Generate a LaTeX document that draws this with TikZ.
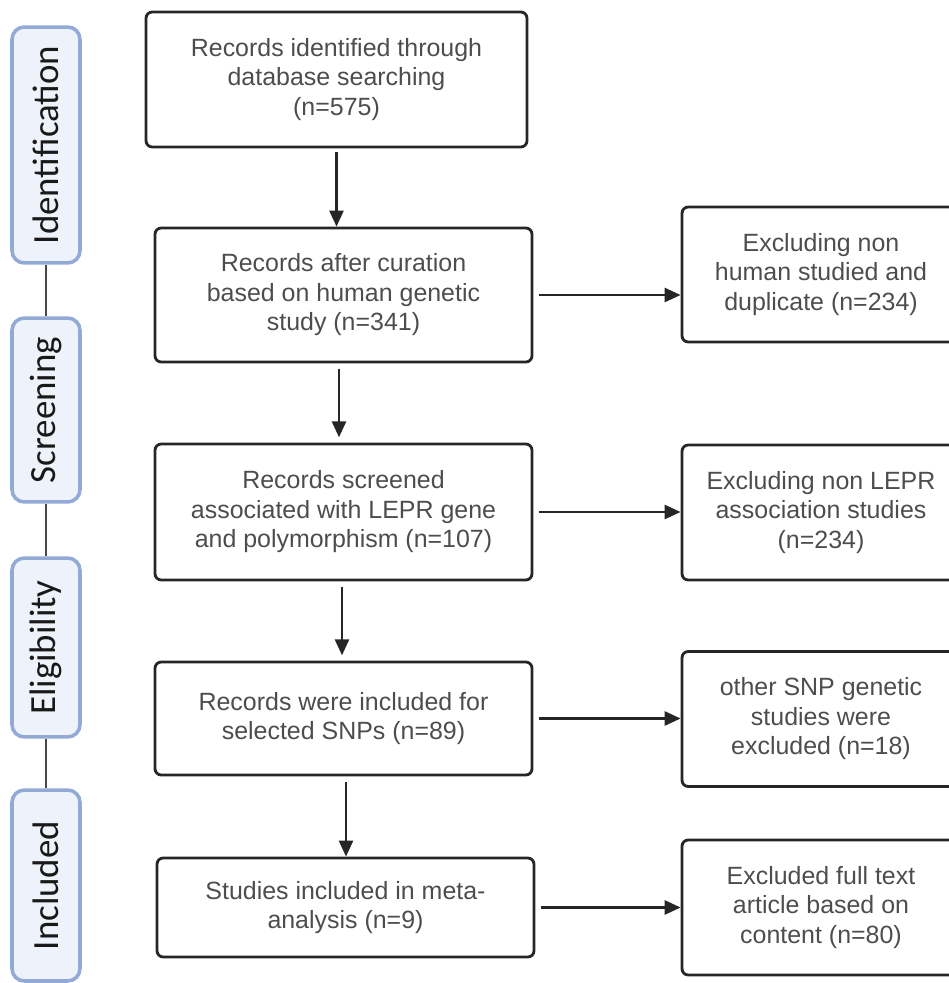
\documentclass[tikz,border=0pt]{standalone}
\usepackage{fontspec}
\setmainfont{Liberation Sans}
\newfontfamily\phasefont{Carlito}
\usetikzlibrary{arrows.meta, positioning}
\definecolor{cblue}{HTML}{93AAD6}
\definecolor{cpale}{HTML}{EEF2FA}
\definecolor{cdark}{HTML}{262626}
\definecolor{ctext}{HTML}{4D4D4D}
\tikzset{
  box/.style={draw=cdark, line width=1.6pt, rounded corners=3.5pt, align=center, text=ctext, font=\fontsize{14.2}{16.8}\selectfont, inner sep=2pt},
  leftbox/.style={box, minimum width=7.54cm},
  rightbox/.style={box, minimum width=5.56cm, minimum height=2.7cm},
  phase/.style={draw=cblue, fill=cpale, line width=2pt, rounded corners=7pt, rotate=90, minimum height=1.36cm, font=\phasefont\fontsize{21}{24}\selectfont, text=black!90},
  arrow/.style={-{Triangle[length=3.2mm, width=2.8mm]}, draw=cdark, line width=1.5pt},
  link/.style={draw=cdark!85, line width=1.2pt},
}

\begin{document}
\begin{tikzpicture}[x=0.02cm, y=-0.02cm]
  \useasboundingbox (0,0) rectangle (948,983);
  % phases
  \node[phase, minimum width=4.72cm] (pident) at (46,145) {Identification};
  \node[phase, minimum width=3.68cm] (pscreen) at (46,410) {Screening};
  \node[phase, minimum width=3.58cm] (pelig) at (46,647.5) {Eligibility};
  \node[phase, minimum width=3.82cm] (pincl) at (46,885.5) {Included};
  \draw[link] (pident) -- (pscreen);
  \draw[link] (pscreen) -- (pelig);
  \draw[link] (pelig) -- (pincl);
  % main column
  \node[box, minimum width=7.62cm, minimum height=2.7cm] (found) at (336.5,79.5) {Records identified through\\database searching\\(n=575)};
  \node[leftbox, minimum height=2.68cm] (curated) at (343.5,295) {Records after curation\\based on human genetic\\study (n=341)};
  \node[leftbox, minimum height=2.72cm] (screened) at (343.5,512) {Records screened\\associated with LEPR gene\\and polymorphism (n=107)};
  \node[leftbox, minimum height=2.26cm] (selected) at (343.5,718.5) {Records were included for\\selected SNPs (n=89)};
  \node[leftbox, minimum height=1.98cm] (meta) at (345.5,907.5) {Studies included in meta-\\analysis (n=9)};
  % exclusions
  \node[rightbox] (nonhuman) at (821,274.5) {Excluding non\\human studied and\\duplicate (n=234)};
  \node[rightbox] (nonlepr) at (821,512.5) {Excluding non LEPR\\association studies\\(n=234)};
  \node[rightbox] (othersnp) at (821,719) {other SNP genetic\\studies were\\excluded (n=18)};
  \node[rightbox] (fulltext) at (821,907.5) {Excluded full text\\article based on\\content (n=80)};
  % arrows
  \draw[arrow, shorten <=2pt] (found.south) -- (found.south |- curated.north);
  \draw[arrow, shorten <=3pt, shorten >=3pt] ([xshift=-0.09cm]curated.south) -- ([xshift=-0.09cm]curated.south |- screened.north);
  \draw[arrow, shorten <=3pt, shorten >=3pt] ([xshift=-0.03cm]screened.south) -- ([xshift=-0.03cm]screened.south |- selected.north);
  \draw[arrow, shorten <=3pt] ([xshift=0.05cm]selected.south) -- ([xshift=0.05cm]selected.south |- meta.north);
  \draw[arrow, shorten <=3pt] (curated.east) -- (curated.east -| nonhuman.west);
  \draw[arrow, shorten <=3pt] (screened.east) -- (screened.east -| nonlepr.west);
  \draw[arrow, shorten <=3pt] (selected.east) -- (selected.east -| othersnp.west);
  \draw[arrow, shorten <=3pt] (meta.east) -- (meta.east -| fulltext.west);
\end{tikzpicture}
\end{document}
